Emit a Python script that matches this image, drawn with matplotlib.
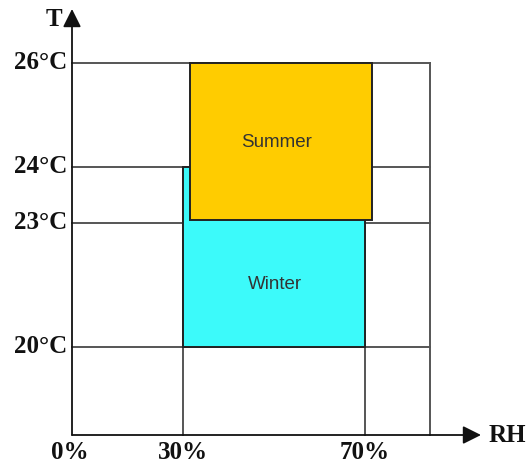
import matplotlib.pyplot as plt
import numpy as np
from matplotlib.patches import Rectangle

# comfort zones (RH in %, T in degC)
seasons = ["Summer", "Winter"]
rh_low = [31.5, 30]
rh_high = [71.5, 70]
t_low = [23.05, 20]
t_high = [26, 24]
colors = ["#FFCC00", "#3CFAFA"]

t_levels = [20, 23, 24, 26]
t_labels = ["20\u00b0C", "23\u00b0C", "24\u00b0C", "26\u00b0C"]
rh_levels = [0, 30, 70]
rh_labels = ["0%", "30%", "70%"]

rh_edge = 84   # right border of the grid
t_floor = 18   # bottom of the grid

# schematic (non-uniform) spacing of the original sketch, value -> pixel
rh_knots = np.array([0, 30, 70, 84])
x_px = np.array([72, 183, 365, 430])
t_knots = np.array([18, 20, 23, 24, 26])
y_px = np.array([28, 116, 240, 296, 400])


def piecewise(xk, yk):
    def f(v):
        v = np.asarray(v, dtype=float)
        out = np.interp(v, xk, yk)
        lo = (yk[1] - yk[0]) / (xk[1] - xk[0])
        hi = (yk[-1] - yk[-2]) / (xk[-1] - xk[-2])
        out = np.where(v < xk[0], yk[0] + (v - xk[0]) * lo, out)
        out = np.where(v > xk[-1], yk[-1] + (v - xk[-1]) * hi, out)
        return out
    return f


fx, fx_inv = piecewise(rh_knots, x_px), piecewise(x_px, rh_knots)
fy, fy_inv = piecewise(t_knots, y_px), piecewise(y_px, t_knots)

fig = plt.figure(figsize=(5.26, 4.63), dpi=100)
ax = fig.add_axes([0, 0, 1, 1])
ax.set_xscale('function', functions=(fx, fx_inv))
ax.set_yscale('function', functions=(fy, fy_inv))
ax.set_xlim(float(fx_inv(0)), float(fx_inv(526)))
ax.set_ylim(float(fy_inv(0)), float(fy_inv(463)))
ax.axis('off')

grid_c = '#555555'
lw = 1.4

# winter first, summer on top
for i in [1, 0]:
    ax.add_patch(Rectangle((rh_low[i], t_low[i]), rh_high[i] - rh_low[i],
                           t_high[i] - t_low[i], facecolor=colors[i],
                           edgecolor='#222222', lw=1.4, zorder=2))

# labels in the visible part of each box
ax.annotate(seasons[0], xy=((rh_low[0] + rh_high[0]) / 2, (t_low[0] + t_high[0]) / 2),
            xytext=(-4, -3), textcoords='offset pixels', ha='center', va='center',
            fontsize=13.5, family='Liberation Sans', color='#333333', zorder=3)
ax.annotate(seasons[1], xy=((rh_low[1] + rh_high[1]) / 2, (t_low[1] + t_low[0]) / 2),
            xytext=(1, -1), textcoords='offset pixels', ha='center', va='center',
            fontsize=13.5, family='Liberation Sans', color='#333333', zorder=3)

# grid
for t in t_levels:
    ax.plot([0, rh_edge], [t, t], color=grid_c, lw=lw, zorder=1)
ax.plot([30, 30], [t_floor, 24], color=grid_c, lw=lw, zorder=1)
ax.plot([70, 70], [t_floor, 23], color=grid_c, lw=lw, zorder=1)
ax.plot([rh_edge, rh_edge], [t_floor, 26], color=grid_c, lw=lw, zorder=1)

# axes with arrows
arrow = dict(arrowstyle='-|>,head_length=11,head_width=5.5', mutation_scale=1,
             color='#111111', lw=1.3, shrinkA=0, shrinkB=0)
ax.annotate('', xy=(0, float(fy_inv(454))), xytext=(0, t_floor), arrowprops=arrow, zorder=4)
ax.annotate('', xy=(float(fx_inv(481)), t_floor), xytext=(0, t_floor), arrowprops=arrow, zorder=4)

lab = dict(fontsize=18, fontweight='bold', family='Liberation Serif', color='#111111')
ax.annotate('T', xy=(0, float(fy_inv(446))), xytext=(-10, -3), textcoords='offset pixels',
            ha='right', va='center', **lab)
ax.annotate('RH', xy=(float(fx_inv(481)), t_floor), xytext=(8, 0), textcoords='offset pixels',
            ha='left', va='center', **lab)

for t, s in zip(t_levels, t_labels):
    ax.annotate(s, xy=(0, t), xytext=(-5, 0), textcoords='offset pixels',
                ha='right', va='center', **lab)
for r, s in zip(rh_levels, rh_labels):
    ax.annotate(s, xy=(r, t_floor), xytext=(-2 if r == 0 else 0, -6), textcoords='offset pixels',
                ha='center', va='top', **lab)

fig.savefig('out.png', dpi=100)
